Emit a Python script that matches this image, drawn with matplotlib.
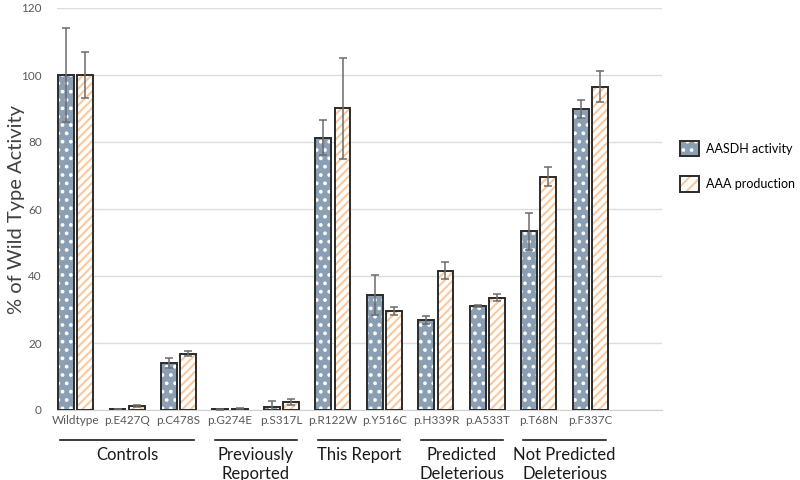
import numpy as np
import matplotlib
matplotlib.use("Agg")
import matplotlib.pyplot as plt
from matplotlib.patches import Patch
from matplotlib.legend_handler import HandlerTuple

variants = ["Wildtype", "p.E427Q", "p.C478S", "p.G274E", "p.S317L", "p.R122W",
            "p.Y516C", "p.H339R", "p.A533T", "p.T68N", "p.F337C"]
aasdh = [100, 0.3, 13.9, 0.2, 0.8, 81.3, 34.4, 26.8, 31.0, 53.4, 89.8]
aasdh_err = [14, 0.1, 1.5, 0.1, 1.9, 5.2, 6.0, 1.2, 0.3, 5.5, 2.7]
aaa = [100, 1.2, 16.8, 0.4, 2.4, 90.1, 29.6, 41.6, 33.5, 69.6, 96.5]
aaa_err = [7, 0.3, 0.8, 0.1, 0.8, 15.1, 1.2, 2.6, 1.0, 2.8, 4.6]

# (label, first index, last index)
groups = [("Controls", 0, 2), ("Previously\nReported", 3, 4), ("This Report", 5, 6),
          ("Predicted\nDeleterious", 7, 8), ("Not Predicted\nDeleterious", 9, 10)]

plt.rcParams['font.family'] = ['Lato', 'DejaVu Sans']
plt.rcParams['hatch.linewidth'] = 1.5

blue = "#8a9fb3"
orange = "#f9c9a0"
edge = "#2b2b2b"

fig = plt.figure(figsize=(8, 4.8), dpi=100)
ax = fig.add_axes([57/800, 1-410/480, (662-57)/800, (410-8)/480])

x = np.arange(len(variants))
w = 0.31
off = 0.185

# filled + hatched parts
ax.bar(x - off, aasdh, w, color=blue, edgecolor="white", hatch="..", linewidth=0, zorder=2)
ax.bar(x + off, aaa, w, color="white", edgecolor=orange, hatch="////", linewidth=0, zorder=2)
# outlines
ax.bar(x - off, aasdh, w, fill=False, edgecolor=edge, linewidth=1.4, zorder=3)
ax.bar(x + off, aaa, w, fill=False, edgecolor=edge, linewidth=1.4, zorder=3)

ax.errorbar(x - off, aasdh, yerr=aasdh_err, fmt="none", ecolor="#6b6b6b",
            elinewidth=1.1, capsize=3, capthick=1.1, zorder=4)
ax.errorbar(x + off, aaa, yerr=aaa_err, fmt="none", ecolor="#6b6b6b",
            elinewidth=1.1, capsize=3, capthick=1.1, zorder=4)

ax.set_xlim(-0.36, 11.39)
ax.set_ylim(0, 120)
ax.set_yticks(range(0, 121, 20))
ax.yaxis.grid(True, color="#dcdcdc", linewidth=1)
ax.set_axisbelow(True)
for s in ["top", "right", "left"]:
    ax.spines[s].set_visible(False)
ax.spines["bottom"].set_color("#d0d0d0")
ax.tick_params(axis="both", length=0, colors="#595959", labelsize=8.5)
ax.tick_params(axis="y", pad=11)
ax.set_xticks(x)
ax.set_xticklabels(variants)
fig.text(17/800, 1-210/480, "% of Wild Type Activity", rotation=90, ha="center",
         va="center", fontsize=14.5, color="#404040")

trans = ax.get_xaxis_transform()
for label, a, b in groups:
    ax.plot([a - 0.3, b + 0.3], [-0.075, -0.075], color="#1a1a1a", linewidth=1.2,
            transform=trans, clip_on=False)
    ax.text((a + b) / 2, -0.092, label, transform=trans, ha="center", va="top",
            fontsize=12, color="#1a1a1a", linespacing=1.2)

h1 = (Patch(facecolor=blue, edgecolor="white", hatch="..", linewidth=0),
      Patch(fill=False, edgecolor=edge, linewidth=1.4))
h2 = (Patch(facecolor="white", edgecolor=orange, hatch="///", linewidth=0),
      Patch(fill=False, edgecolor=edge, linewidth=1.4))
fig.legend(handles=[h1, h2], labels=["AASDH activity", "AAA production"],
           handler_map={tuple: HandlerTuple(ndivide=1, pad=0)},
           loc="upper left", bbox_to_anchor=(680/800, 1-141/480),
           frameon=False, fontsize=9, handlelength=1.5, handleheight=1.5,
           labelspacing=1.6, handletextpad=0.6, borderpad=0, borderaxespad=0)

fig.savefig("out.png", dpi=100)
